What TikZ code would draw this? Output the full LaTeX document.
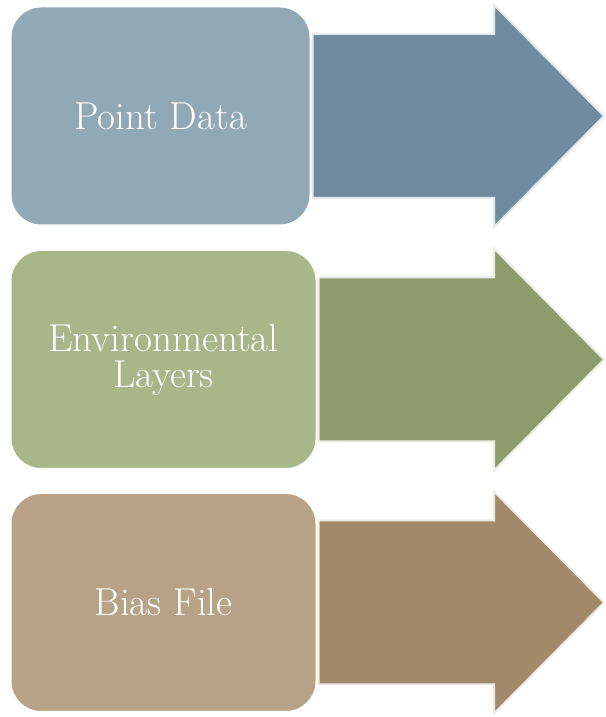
\documentclass[tikz,border=0pt]{standalone}
\usepackage{xcolor}
\usetikzlibrary{calc}
\definecolor{slate}{RGB}{145,168,183}
\definecolor{slatedark}{RGB}{111,139,160}
\definecolor{sage}{RGB}{167,183,138}
\definecolor{sagedark}{RGB}{140,156,108}
\definecolor{tan}{RGB}{185,163,136}
\definecolor{tandark}{RGB}{161,137,105}

\tikzset{
  inputbox/.style={rounded corners=30pt,minimum height=218pt,draw=white,line width=1pt,
    text=white,align=center,font=\fontsize{39}{36}\selectfont},
  bigarrow/.style={line width=2pt,line join=miter}
}

\begin{document}
\begin{tikzpicture}[x=1pt,y=1pt]
\useasboundingbox (0,0) rectangle (605,717);
% one row per input: rounded box, then the arrow leaving it
\foreach \y/\idx/\w/\bcol/\acol/\txt in {601/0/299/slate/slatedark/{Point Data},
    357.5/1/305/sage/sagedark/{Environmental\\Layers},
    114.5/2/305/tan/tandark/{Bias File}}{
  \node[inputbox,fill=\bcol,minimum width=\w pt] at ({11+\w/2},\y) (b\idx) {\txt};
  \draw[bigarrow,draw=white!82!\acol,fill=\acol]
    ($(b\idx.east)+(2,82)$) -- (494,{\y+82}) -- (494,{\y+111}) -- (604,\y)
    -- (494,{\y-111}) -- (494,{\y-82}) -- ($(b\idx.east)+(2,-82)$) -- cycle;
}
\end{tikzpicture}
\end{document}
